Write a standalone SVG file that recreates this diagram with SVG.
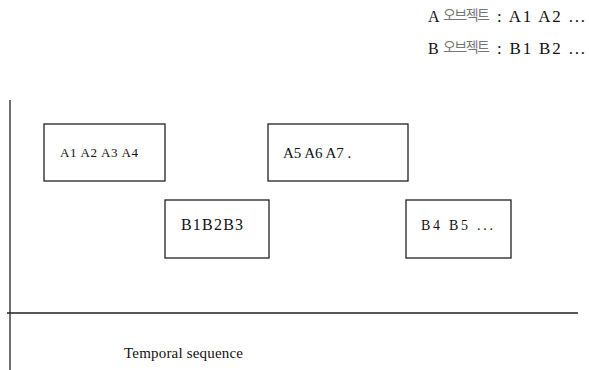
<svg xmlns="http://www.w3.org/2000/svg" width="589" height="370" viewBox="0 0 589 370">
<style>
.box{fill:#fff;stroke:#222;stroke-width:1.3}
.t{font-family:"Liberation Serif","Noto Sans CJK KR",serif;fill:#111}
.k{font-family:"Noto Sans CJK KR",sans-serif;fill:#777;font-size:14px}
.ax{stroke:#222;stroke-width:1.3;fill:none}
</style>
<rect width="589" height="370" fill="#fff"/>
<g id="legend">
<text class="t" x="428" y="22" font-size="16">A</text>
<text class="k" x="443" y="20" textLength="47" lengthAdjust="spacing">오브젝트</text>
<text class="t" x="497" y="22" font-size="17" textLength="88" lengthAdjust="spacing">: A1 A2 ...</text>
<text class="t" x="428" y="54" font-size="16">B</text>
<text class="k" x="443" y="52" textLength="47" lengthAdjust="spacing">오브젝트</text>
<text class="t" x="497" y="54" font-size="17" textLength="88" lengthAdjust="spacing">: B1 B2 ...</text>
</g>
<g id="connectors">
<line class="ax" x1="10" y1="100" x2="10" y2="370"/>
<line class="ax" x1="7" y1="313" x2="578" y2="313"/>
</g>
<g id="nodeA1">
<rect class="box" x="44" y="124" width="121" height="57"/>
<text class="t" x="60" y="157" font-size="13" textLength="78" lengthAdjust="spacing">A1 A2 A3 A4</text>
</g>
<g id="nodeB1">
<rect class="box" x="165" y="200" width="104" height="58"/>
<text class="t" x="181" y="230" font-size="16" textLength="62" lengthAdjust="spacing">B1B2B3</text>
</g>
<g id="nodeA5">
<rect class="box" x="268" y="124" width="140" height="57"/>
<text class="t" x="283" y="158" font-size="15">A5 A6 A7 .</text>
</g>
<g id="nodeB4">
<rect class="box" x="406" y="200" width="105" height="58"/>
<text class="t" x="421" y="230" font-size="14" textLength="72" lengthAdjust="spacing">B4 B5 ...</text>
</g>
<text class="t" x="124" y="358" font-size="15" textLength="119" lengthAdjust="spacing">Temporal sequence</text>
</svg>
